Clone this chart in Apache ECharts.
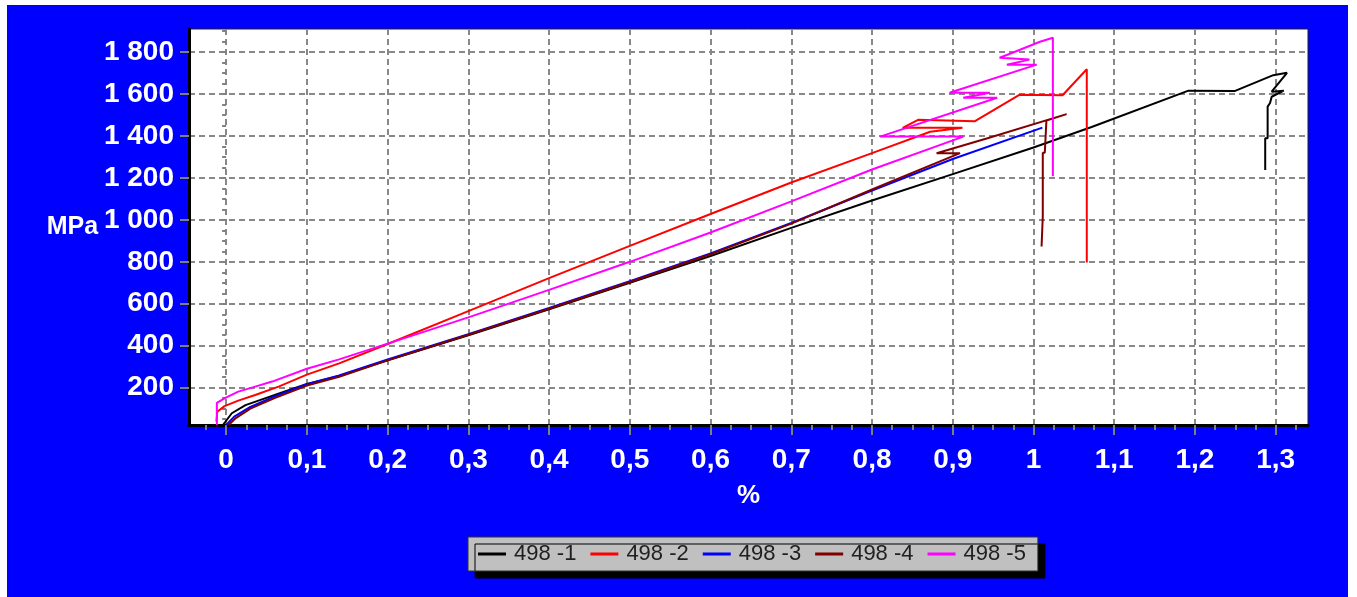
<!DOCTYPE html>
<html>
<head>
<meta charset="utf-8">
<script src="https://cdn.jsdelivr.net/npm/echarts@6/dist/echarts.min.js"></script>
<style>
  html, body { margin: 0; padding: 0; background: #ffffff; }
  #chart { width: 1357px; height: 597px; }
</style>
</head>
<body>
<div id="chart"></div>
<script>
// Stress–strain curves of five specimens: [strain %, stress MPa]
const seriesNames = ['498 -1', '498 -2', '498 -3', '498 -4', '498 -5'];

const specimen1 = [
  [-0.004, 22], [0.007, 78], [0.024, 117], [0.048, 149], [0.07, 178], [0.1, 218],
  [0.14, 256], [0.2, 330], [0.3, 450], [0.4, 574], [0.5, 700], [0.6, 828],
  [0.7, 962], [0.8, 1092], [0.9, 1218], [1.0, 1345], [1.072, 1443], [1.192, 1616],
  [1.249, 1614], [1.297, 1690], [1.314, 1701], [1.295, 1611], [1.31, 1616],
  [1.295, 1587], [1.293, 1557], [1.29, 1540], [1.29, 1389], [1.287, 1389], [1.287, 1238]
];
const specimen2 = [
  [-0.012, 40], [-0.011, 85], [-0.002, 112], [0.015, 138], [0.036, 165], [0.065, 205],
  [0.1, 262], [0.14, 316], [0.2, 408], [0.3, 565], [0.4, 722], [0.5, 876],
  [0.6, 1028], [0.7, 1178], [0.8, 1318], [0.872, 1420], [0.912, 1439], [0.838, 1439],
  [0.857, 1477], [0.927, 1470], [0.983, 1597], [1.036, 1594], [1.066, 1718], [1.066, 797]
];
const specimen3 = [
  [0.0, 22], [0.01, 62], [0.03, 108], [0.06, 158], [0.1, 216], [0.14, 258],
  [0.2, 334], [0.3, 455], [0.4, 580], [0.5, 708], [0.6, 840], [0.7, 985],
  [0.8, 1140], [0.9, 1290], [1.011, 1440]
];
const specimen4 = [
  [0.003, 22], [0.012, 55], [0.03, 100], [0.06, 150], [0.1, 210], [0.14, 252],
  [0.2, 330], [0.3, 452], [0.4, 576], [0.5, 704], [0.6, 836], [0.7, 982],
  [0.8, 1145], [0.909, 1318], [0.88, 1318], [0.942, 1388], [1.041, 1504],
  [1.016, 1474], [1.014, 1320], [1.0115, 1320], [1.0115, 1016], [1.01, 1016], [1.01, 873]
];
const specimen5 = [
  [-0.0115, 22], [-0.0115, 127], [-0.001, 151], [0.015, 181], [0.036, 205], [0.057, 229],
  [0.1, 290], [0.14, 335], [0.2, 410], [0.3, 535], [0.4, 666], [0.5, 800],
  [0.6, 940], [0.7, 1088], [0.8, 1240], [0.913, 1397], [0.81, 1397], [0.955, 1582],
  [0.913, 1582], [0.946, 1606], [0.896, 1606], [1.004, 1740], [0.967, 1740],
  [0.995, 1764], [0.958, 1773], [0.974, 1797], [1.008, 1849], [1.024, 1868], [1.024, 1208]
];

const xTickValues = [0, 0.1, 0.2, 0.3, 0.4, 0.5, 0.6, 0.7, 0.8, 0.9, 1, 1.1, 1.2, 1.3];
const yTickValues = [200, 400, 600, 800, 1000, 1200, 1400, 1600, 1800];

const seriesData = [specimen1, specimen2, specimen3, specimen4, specimen5];
const seriesColors = ['#000000', '#ff0000', '#0000ff', '#800000', '#ff00ff'];

// axis extents and minor tick spacing
const xMin = -0.046, xMax = 1.34, yMin = 22, yMax = 1910;
const xMinorStep = 0.025, yMinorStep = 50;

const xMinor = [];
for (let v = -0.025; v < xMax; v += xMinorStep) xMinor.push(Math.round(v * 1000) / 1000);
const yMinor = [];
for (let v = 50; v < yMax; v += yMinorStep) yMinor.push(v);

const labelFont = "'Liberation Sans', Arial, sans-serif";

const fmtX = v => String(Math.round(v * 10) / 10).replace('.', ',');
const fmtY = v => String(v).replace(/\B(?=(\d{3})+(?!\d))/g, ' ');

const chart = echarts.init(document.getElementById('chart'), null, { renderer: 'canvas' });

chart.setOption({
  backgroundColor: '#ffffff',
  animation: false,
  graphic: [
    { type: 'rect', z: -10, silent: true, shape: { x: 7, y: 5, width: 1341, height: 592 }, style: { fill: '#0000ff' } }
  ],
  grid: {
    left: 189, top: 29, right: 49, bottom: 172,
    show: true, backgroundColor: '#ffffff', borderColor: '#202020', borderWidth: 1
  },
  legend: {
    data: seriesNames,
    left: 468, top: 537,
    padding: [6, 12, 6, 10],
    itemGap: 14,
    itemWidth: 28, itemHeight: 3,
    icon: 'rect',
    backgroundColor: '#c0c0c0',
    borderColor: '#303030', borderWidth: 1,
    shadowColor: '#000000', shadowBlur: 0, shadowOffsetX: 7, shadowOffsetY: 7,
    textStyle: { color: '#202020', fontSize: 22, fontFamily: labelFont, padding: [0, 0, 0, 3] }
  },
  xAxis: [
    {
      type: 'value', min: xMin, max: xMax,
      name: '%', nameLocation: 'middle', nameGap: 58,
      nameTextStyle: { color: '#ffffff', fontSize: 26, fontWeight: 'bold', fontFamily: labelFont },
      axisLine: { show: true, onZero: false, lineStyle: { color: '#000000', width: 3 } },
      axisTick: { show: true, customValues: xTickValues, length: 10, lineStyle: { color: '#808080', width: 2 } },
      axisLabel: {
        customValues: xTickValues, margin: 21, formatter: fmtX,
        color: '#ffffff', fontSize: 28, fontWeight: 'bold', fontFamily: labelFont
      },
      splitLine: { show: true, lineStyle: { color: '#888888', width: 2, type: [6, 4] } }
    },
    {
      type: 'value', min: xMin, max: xMax, position: 'bottom', gridIndex: 0,
      axisLine: { show: false },
      axisTick: { show: true, customValues: xMinor, length: 5, lineStyle: { color: '#808080', width: 2 } },
      axisLabel: { show: false },
      splitLine: { show: false }
    }
  ],
  yAxis: [
    {
      type: 'value', min: yMin, max: yMax,
      name: 'MPa', nameLocation: 'middle', nameRotate: 0, nameGap: 78,
      nameTextStyle: { color: '#ffffff', fontSize: 25, fontWeight: 'bold', fontFamily: labelFont, align: 'right', verticalAlign: 'middle' },
      axisLine: { show: true, onZero: false, lineStyle: { color: '#000000', width: 3 } },
      axisTick: { show: true, customValues: yTickValues, length: 9, lineStyle: { color: '#808080', width: 2 } },
      axisLabel: {
        customValues: yTickValues, margin: 15, formatter: fmtY,
        color: '#ffffff', fontSize: 28, fontWeight: 'bold', fontFamily: labelFont
      },
      splitLine: { show: true, lineStyle: { color: '#888888', width: 2, type: [6, 4] } }
    },
    {
      type: 'value', min: yMin, max: yMax, position: 'left', gridIndex: 0,
      axisLine: { show: false },
      axisTick: { show: true, customValues: yMinor, length: 4, lineStyle: { color: '#808080', width: 2 } },
      axisLabel: { show: false },
      splitLine: { show: false }
    }
  ],
  series: seriesNames.map((name, i) => ({
    name: name,
    type: 'line',
    xAxisIndex: 0, yAxisIndex: 0,
    data: seriesData[i],
    showSymbol: false, symbol: 'none',
    lineStyle: { color: seriesColors[i], width: 2 },
    itemStyle: { color: seriesColors[i] }
  }))
});
</script>
</body>
</html>
